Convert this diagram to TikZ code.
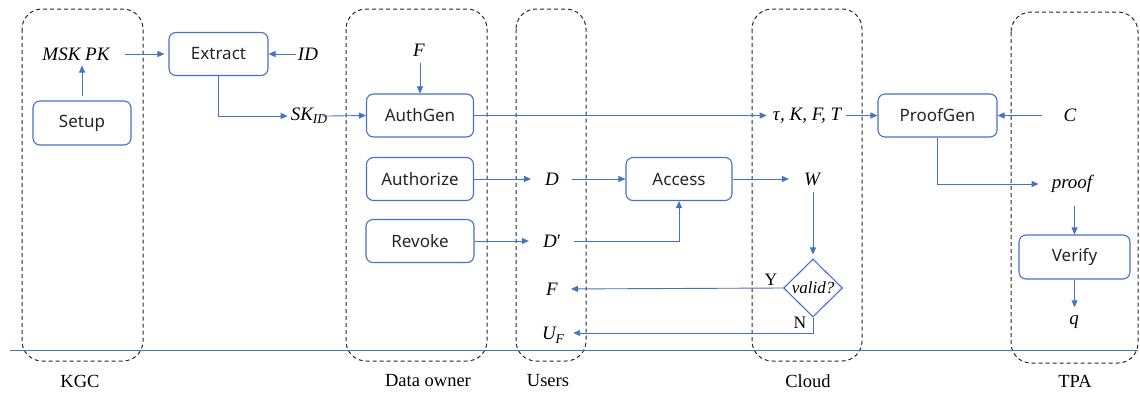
\documentclass[tikz,border=0pt]{standalone}
\usepackage{fontspec}
\setmainfont{Liberation Serif}
\setsansfont{Noto Sans}
\usetikzlibrary{arrows.meta,shapes.geometric}
\definecolor{flow}{RGB}{68,114,196}
\definecolor{frame}{RGB}{40,40,40}
\tikzset{
  procbox/.style={draw=flow,line width=1.1pt,rounded corners=7pt,fill=white,
    font=\sffamily\fontsize{17}{20}\selectfont,text=black!85,inner sep=0pt},
  lab/.style={font=\fontsize{19}{21}\selectfont\itshape,inner sep=1pt},
  party/.style={font=\fontsize{18.5}{20}\selectfont,inner sep=0pt},
  group/.style={draw=frame,line width=1pt,dash pattern=on 4pt off 3pt,rounded corners=20pt},
  link/.style={draw=flow,line width=0.9pt,-{Triangle[length=7pt,width=6pt]}},
  yn/.style={font=\fontsize{17.5}{19}\selectfont,inner sep=0pt},
}
\begin{document}
\begin{tikzpicture}[x=1pt,y=-1pt]
\useasboundingbox (0,0) rectangle (1140,394);

% entity frames
\draw[group] (22,9) rectangle (143,361);
\draw[group] (346,9) rectangle (487,361);
\draw[group] (516,9) rectangle (586,361);
\draw[group] (752,9) rectangle (862,361);
\draw[group] (1011,12) rectangle (1138,363);

% baseline
\draw[flow,line width=1pt] (10,350) -- (1138,350);

% entity names
\node[party] at (80,381) {KGC};
\node[party] at (428,381) {Data owner};
\node[party] at (548,381) {Users};
\node[party] at (808,381) {Cloud};
\node[party] at (1075,381) {TPA};

% procedures
\node[procbox,minimum width=98pt,minimum height=44pt] (setup) at (82,123) {Setup};
\node[procbox,minimum width=99pt,minimum height=43pt] (extract) at (218.5,54) {Extract};
\node[procbox,minimum width=107pt,minimum height=43pt] (authgen) at (420,115.5) {AuthGen};
\node[procbox,minimum width=107pt,minimum height=43pt] (authorize) at (420,179) {Authorize};
\node[procbox,minimum width=108pt,minimum height=43pt] (revoke) at (420,241) {Revoke};
\node[procbox,minimum width=106pt,minimum height=43pt] (access) at (679,179) {Access};
\node[procbox,minimum width=119pt,minimum height=43pt] (proofgen) at (937.5,115.5) {ProofGen};
\node[procbox,minimum width=111pt,minimum height=44pt] (verify) at (1074.5,257) {Verify};
\node[draw=flow,line width=1.1pt,diamond,inner sep=0pt,minimum width=59pt,minimum height=58pt,
      font=\fontsize{17}{18}\selectfont\itshape] (valid) at (813,288) {valid?};

% data items
\node[lab] (msk) at (76,54) {MSK PK};
\node[lab] (id) at (308,54) {ID};
\node[lab] (sk) at (309,116) {SK\raisebox{-0.35ex}{\fontsize{13.5}{14}\selectfont ID}};
\node[lab] (f) at (419,50) {F};
\node[lab] (tau) at (807,115.5) {τ\/, K, F, T};
\node[lab] (c) at (1070,115.5) {C};
\node[lab] (proof) at (1072,184) {proof};
\node[lab] (q) at (1074,322) {q};
\node[lab] (d) at (552,179) {D};
\node[lab] (dp) at (552,241) {D\/\upshape′};
\node[lab] (fu) at (552,289) {F};
\node[lab] (uf) at (553,335) {U\raisebox{-0.5ex}{\fontsize{13.5}{14}\selectfont F}};
\node[lab] (w) at (812,179) {W};

\node[yn] at (771,280) {Y};
\node[yn] at (800,323) {N};

% flows
\draw[link,shorten <=4pt,shorten >=4pt] (setup.north) -- (setup.north |- msk.south);
\draw[link,shorten <=14pt,shorten >=4pt] (msk.east) -- (extract.west);
\draw[link,shorten <=1pt] (id.west) -- (extract.east);
\draw[link,shorten >=2pt] (extract.south) |- (sk.west);
\draw[link,shorten <=-6pt] (sk.east) -- (authgen.west);
\draw[link,shorten <=6pt] (authgen.north |- f.south) -- (authgen.north);
\draw[link,shorten >=5pt] (authgen.east) -- (tau.west);
\draw[link,shorten <=4pt] (tau.east) -- (proofgen.west);
\draw[link,shorten <=20pt] (c.west) -- (proofgen.east);
\draw[link,shorten >=12pt] (proofgen.south) |- (proof.west);
\draw[link,shorten <=12pt] (verify.north |- proof.south) -- (verify.north);
\draw[link,shorten >=7pt] (verify.south) -- (verify.south |- q.north);
\draw[link,shorten >=13pt] (authorize.east) -- (d.west);
\draw[link,shorten <=12pt] (d.east) -- (access.west);
\draw[link,shorten >=14pt] (access.east) -- (w.west);
\draw[link,shorten <=5pt,shorten >=4pt] (valid.north |- w.south) -- (valid.north);
\draw[link,shorten >=13pt] (revoke.east) -- (dp.west);
\draw[link,shorten <=12pt] (dp.east) -| (access.south);
\draw[link,shorten >=12pt] (valid.west) -- (fu.east);
\draw[link,shorten >=8pt] (valid.south) |- ([yshift=2pt]uf.east);
\end{tikzpicture}
\end{document}
